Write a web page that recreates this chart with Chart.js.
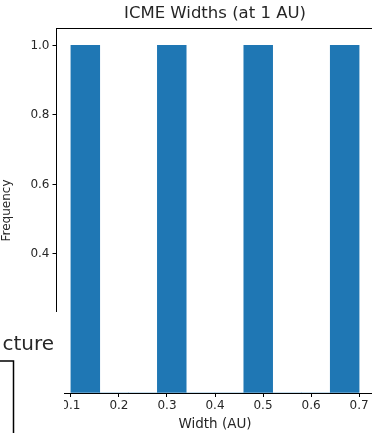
<!DOCTYPE html>
<html>
<head>
<meta charset="utf-8">
<script src="https://cdn.jsdelivr.net/npm/chart.js@4.4.1/dist/chart.umd.min.js"></script>
<style>
  html, body { margin: 0; padding: 0; background: #fff; overflow: hidden; }
  #wrap { width: 372px; height: 433px; overflow: hidden; position: relative; }
  #box { width: 390px; height: 433px; }
</style>
</head>
<body>
<div id="wrap"><div id="box"><canvas id="chart"></canvas></div></div>
<script>
// histogram bins (AU) and counts
const binEdges = [0.10, 0.16, 0.22, 0.28, 0.34, 0.40, 0.46, 0.52, 0.58, 0.64, 0.70];
const counts = [1, 0, 0, 1, 0, 0, 1, 0, 0, 1];
const xTicks = [0.1, 0.2, 0.3, 0.4, 0.5, 0.6, 0.7];
const yTicks = [0.0, 0.2, 0.4, 0.6, 0.8, 1.0];

const points = counts.map((c, i) => ({ x: (binEdges[i] + binEdges[i + 1]) / 2, y: c }));

const font = 'DejaVu Sans';
const ink = '#262626';

// top spine + stray piece of another figure covering the lower left corner
const extras = {
  id: 'extras',
  afterDraw(chart) {
    const ctx = chart.ctx, a = chart.chartArea;
    ctx.save();
    ctx.strokeStyle = '#000';
    ctx.lineWidth = 1;
    ctx.beginPath();
    ctx.moveTo(a.left, a.top + 0.5);
    ctx.lineTo(a.right, a.top + 0.5);
    ctx.stroke();

    ctx.fillStyle = '#fff';
    ctx.fillRect(0, 312, 64, 121);
    ctx.fillStyle = ink;
    ctx.font = '20px "DejaVu Sans"';
    ctx.textAlign = 'right';
    ctx.textBaseline = 'alphabetic';
    ctx.fillText('cture', 54, 350);
    ctx.lineWidth = 1.5;
    ctx.beginPath();
    ctx.moveTo(0, 361);
    ctx.lineTo(13.5, 361);
    ctx.lineTo(13.5, 433);
    ctx.stroke();
    ctx.restore();
  }
};

new Chart(document.getElementById('chart'), {
  type: 'bar',
  data: {
    datasets: [{
      data: points,
      backgroundColor: '#1f77b4',
      borderWidth: 0,
      barPercentage: 1,
      categoryPercentage: 1
    }]
  },
  options: {
    responsive: true,
    maintainAspectRatio: false,
    animation: false,
    layout: { padding: { top: 4, right: 16.5, left: 0, bottom: 0 } },
    plugins: {
      legend: { display: false },
      tooltip: { enabled: false },
      title: {
        display: true,
        text: 'ICME Widths (at 1 AU)',
        color: ink,
        font: { family: font, size: 16.5, weight: 'normal', lineHeight: 1.2 },
        padding: { top: 0, bottom: 4.2 },
        position: 'top',
        fullSize: false
      }
    },
    scales: {
      x: {
        type: 'linear',
        offset: false,
        min: 0.07,
        max: 0.73,
        afterBuildTicks: s => { s.ticks = xTicks.map(v => ({ value: v })); },
        afterFit: s => { s.height = 40; },
        grid: { display: true, offset: false, drawOnChartArea: false, drawTicks: true, tickLength: 4, color: '#000' },
        border: { display: true, color: '#000' },
        ticks: { color: ink, font: { family: font, size: 12 }, padding: 2, maxRotation: 0,
                 callback: v => v.toFixed(1) },
        title: { display: true, text: 'Width (AU)', color: ink,
                 font: { family: font, size: 13.5 }, padding: { top: 1, bottom: 0 } }
      },
      y: {
        min: 0,
        max: 1.05,
        afterBuildTicks: s => { s.ticks = yTicks.map(v => ({ value: v })); },
        afterFit: s => { s.width = 56.5; },
        grid: { display: true, drawOnChartArea: false, drawTicks: true, tickLength: 4, color: '#000' },
        border: { display: true, color: '#000' },
        ticks: { color: ink, font: { family: font, size: 12 }, padding: 3,
                 callback: v => v.toFixed(1) },
        title: { display: true, text: 'Frequency', color: ink,
                 font: { family: font, size: 12 }, padding: { top: 0, bottom: 8 } }
      }
    }
  },
  plugins: [extras]
});
</script>
</body>
</html>
